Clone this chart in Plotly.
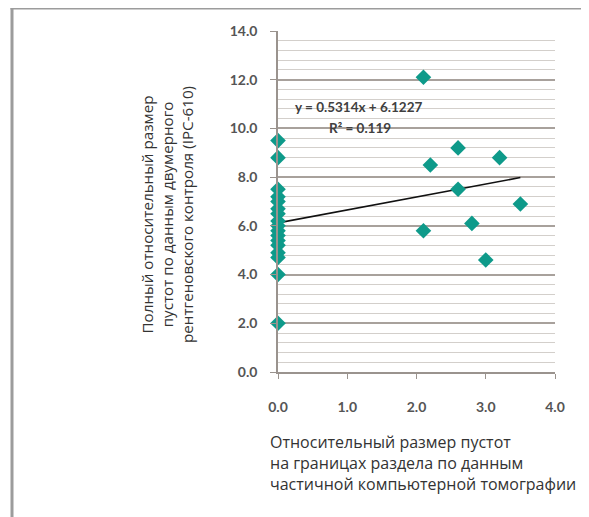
import plotly.graph_objects as go

# ---- data ----
x_values = [0, 0, 0, 0, 0, 0, 0, 0, 0, 0, 0, 0, 0, 0, 0, 0, 0,
            2.1, 2.6, 2.2, 3.2, 2.6, 3.5, 2.8, 2.1, 3.0]
y_values = [9.5, 8.8, 7.5, 7.2, 7.0, 6.7, 6.5, 6.2, 6.0, 5.8, 5.6, 5.4, 5.2, 4.9, 4.7, 4.0, 2.0,
            12.1, 9.2, 8.5, 8.8, 7.5, 6.9, 6.1, 5.8, 4.6]
trend_slope = 0.5314
trend_intercept = 6.1227
r_squared = 0.119
trend_x = [0.0, 3.5]
x_title_lines = ["Относительный размер пустот",
                 "на границах раздела по данным",
                 "частичной компьютерной томографии"]
y_title_lines = ["Полный относительный размер",
                 "пустот по данным двумерного",
                 "рентгеновского контроля (IPC-610)"]

# ---- layout geometry (pixels, page offset 8px compensated) ----
OFF = 8
W, H = 589 - OFF, 517 - OFF
L, R, T, B = 278 - OFF, 34, 31 - OFF, 145
pw, ph = W - L - R, H - T - B

def px_x(p):
    return (p - OFF - L) / pw

def px_y(p):
    return (H - B - (p - OFF)) / ph

trend_y = [trend_slope * v + trend_intercept for v in trend_x]

fig = go.Figure()
fig.add_trace(go.Scatter(
    x=trend_x, y=trend_y, mode="lines",
    line=dict(color="#111111", width=1.6), hoverinfo="skip", showlegend=False))
fig.add_trace(go.Scatter(
    x=x_values, y=y_values, mode="markers", cliponaxis=False,
    marker=dict(symbol="diamond", size=12, color="#0E9A8A",
                line=dict(width=0)),
    showlegend=False))

tick_font = dict(family="Lato, Open Sans, sans-serif", size=14, color="#555555",
                 weight="bold")

fig.update_xaxes(
    range=[0, 4], tickmode="linear", tick0=0, dtick=1, tickformat=".1f",
    showgrid=False, gridcolor="rgba(0,0,0,0)", zeroline=False,
    showline=True, linecolor="#9a938e", linewidth=1.5,
    ticks="outside", ticklen=5, tickcolor="#9a938e", tickwidth=1.2,
    tickfont=tick_font, ticklabelstandoff=16,
    minor=dict(showgrid=False, gridcolor="rgba(0,0,0,0)", ticks=""))
fig.update_yaxes(
    range=[0, 14], tickmode="linear", tick0=0, dtick=2, tickformat=".1f",
    showgrid=True, gridcolor="#a8a19c", gridwidth=1.5, zeroline=False,
    showline=True, linecolor="#9a938e", linewidth=1.5,
    ticks="outside", ticklen=6, tickcolor="#9a938e", tickwidth=1.2,
    tickfont=tick_font, ticklabelstandoff=10,
    minor=dict(tickmode="linear", tick0=0, dtick=0.4, showgrid=True,
               gridcolor="#d3cfcb", gridwidth=1.2, ticks=""))

annotations = [
    dict(x=1.16, y=10.86, xref="x", yref="y", showarrow=False,
         text=f"y = {trend_slope}x + {trend_intercept}",
         font=dict(family="Lato, sans-serif", size=13.5, color="#404040", weight="bold")),
    dict(x=1.19, y=10.0, xref="x", yref="y", showarrow=False,
         text=f"R² = {r_squared}",
         font=dict(family="Lato, sans-serif", size=13.5, color="#404040", weight="bold")),
    dict(x=px_x(268), y=px_y(429), xref="paper", yref="paper",
         xanchor="left", yanchor="top", align="left", showarrow=False,
         text="<br>".join(x_title_lines),
         font=dict(family="Open Sans, sans-serif", size=16, color="#333333")),
    dict(x=px_x(167), y=px_y(215), xref="paper", yref="paper",
         xanchor="center", yanchor="middle", align="center", showarrow=False,
         textangle=-90,
         text="<br>".join(y_title_lines),
         font=dict(family="Open Sans, sans-serif", size=15.2, color="#333333")),
]

shapes = [
    dict(type="line", xref="paper", yref="paper",
         x0=px_x(12), x1=px_x(12), y0=px_y(8), y1=px_y(517 + 5),
         line=dict(color="#9c9c9c", width=3)),
    dict(type="line", xref="paper", yref="paper",
         x0=px_x(10.5), x1=px_x(589 + 5), y0=px_y(8), y1=px_y(8),
         line=dict(color="#9c9c9c", width=3)),
]

fig.update_layout(
    width=W, height=H,
    margin=dict(l=L, r=R, t=T, b=B),
    paper_bgcolor="white", plot_bgcolor="white",
    annotations=annotations, shapes=shapes,
    showlegend=False)

fig.write_html("out.html")
